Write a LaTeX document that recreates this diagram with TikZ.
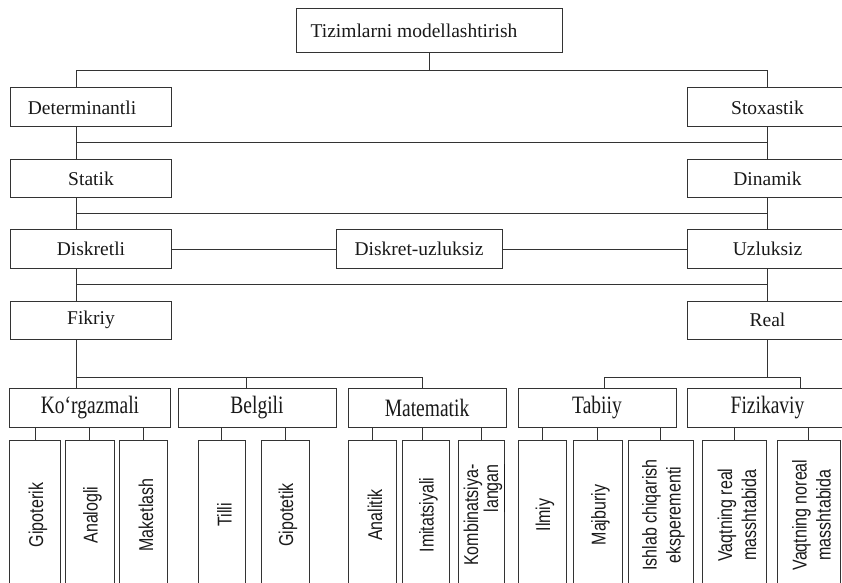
\documentclass[tikz,border=0pt]{standalone}
\usepackage{fontspec}
\setmainfont{Liberation Serif}
\newfontfamily\rowfont[FakeStretch=0.78]{Liberation Serif}
\newfontfamily\leaffont[FakeStretch=0.8]{Liberation Sans}
\begin{document}
\begin{tikzpicture}[x=1bp,y=-1bp,
  box/.style={draw=black!80, line width=1bp, rectangle, inner sep=0pt, text=black!90,
    font=\fontsize{19.5bp}{22bp}\selectfont},
  rowbox/.style={box, minimum height=39bp, font=\rowfont\fontsize{25bp}{28bp}\selectfont},
  leafbox/.style={draw=black!80, line width=1bp, rectangle, inner sep=0pt, minimum height=150bp},
  leaftext/.style={rotate=90, inner sep=0pt, align=center, text=black!90, yshift=-3bp,
    font=\leaffont\fontsize{20bp}{24bp}\selectfont},
  link/.style={draw=black!80, line width=1bp}]
\useasboundingbox (0,0) rectangle (842,583);
\fill[white] (0,0) rectangle (842,583);
\clip (0,0) rectangle (842,583);

% guide positions of the trunk lines
\coordinate (xl) at (76,0);
\coordinate (xr) at (767,0);
\coordinate (xb) at (246,0);
\coordinate (xm) at (422,0);
\coordinate (xt) at (604,0);
\coordinate (xf) at (800,0);
\coordinate (y1) at (0,71);
\coordinate (y2) at (0,143);
\coordinate (y3) at (0,214);
\coordinate (y4) at (0,284);
\coordinate (y5) at (0,377);

% root
\node[box, minimum width=266bp, minimum height=44bp] (top) at (429,31) {\hspace*{-30bp}Tizimlarni modellashtirish};

% side columns
\node[box, minimum width=160bp, minimum height=39bp] (det)   at (91,107.5)  {\hspace*{-18bp}Determinantli};
\node[box, minimum width=161bp, minimum height=39bp] (stox)  at (767.5,107.5) {Stoxastik};
\node[box, minimum width=160bp, minimum height=38bp] (stat)  at (91,179)    {Statik};
\node[box, minimum width=161bp, minimum height=38bp] (dinam) at (767.5,179) {Dinamik};
\node[box, minimum width=160bp, minimum height=38bp] (disk)  at (91,249)    {Diskretli};
\node[box, minimum width=166bp, minimum height=38bp] (du)    at (419,249)   {Diskret-uzluksiz};
\node[box, minimum width=161bp, minimum height=38bp] (uzl)   at (767.5,249) {Uzluksiz};
\node[box, minimum width=160bp, minimum height=38bp] (fikr)  at (91,320)    {Fikriy};
\node[box, minimum width=161bp, minimum height=38bp] (real)  at (767.5,320) {Real};

% model kinds
\node[rowbox, minimum width=160bp] (kor)  at (90,407.5)    {Ko‘rgazmali};
\node[rowbox, minimum width=158bp] (belg) at (257,407.5)   {Belgili};
\node[rowbox, minimum width=158bp] (mat)  at (427,407.5)   {Matematik};
\node[rowbox, minimum width=158bp] (tab)  at (597,407.5)   {Tabiiy};
\node[rowbox, minimum width=161bp] (fiz)  at (767.5,407.5) {Fizikaviy};

% leaves
\node[leafbox, minimum width=50bp] (l1)  at (35,515)    {};
\node[leafbox, minimum width=49bp] (l2)  at (89.5,515)  {};
\node[leafbox, minimum width=48bp] (l3)  at (143,515)   {};
\node[leafbox, minimum width=47bp] (l4)  at (221.5,515) {};
\node[leafbox, minimum width=48bp] (l5)  at (285,515)   {};
\node[leafbox, minimum width=48bp] (l6)  at (372,515)   {};
\node[leafbox, minimum width=47bp] (l7)  at (425.5,515) {};
\node[leafbox, minimum width=46bp] (l8)  at (481,515)   {};
\node[leafbox, minimum width=48bp] (l9)  at (542,515)   {};
\node[leafbox, minimum width=49bp] (l10) at (597.5,515) {};
\node[leafbox, minimum width=65bp] (l11) at (660.5,515) {};
\node[leafbox, minimum width=64bp] (l12) at (734,515)   {};
\node[leafbox, minimum width=63bp] (l13) at (808.5,515) {};

\node[leaftext] (t1)  at (l1.center)  {Gipoterik};
\node[leaftext] (t2)  at (l2.center)  {Analogli};
\node[leaftext] (t3)  at (l3.center)  {Maketlash};
\node[leaftext] (t4)  at (l4.center)  {Tilli};
\node[leaftext] (t5)  at (l5.center)  {Gipotetik};
\node[leaftext] (t6)  at (l6.center)  {Analitik};
\node[leaftext] (t7)  at (l7.center)  {Imitatsiyali};
\node[leaftext, align=right, font=\leaffont\fontsize{20bp}{20bp}\selectfont] (t8) at (l8.center)
  {Kombinatsiya-\\\underline{langan}};
\node[leaftext] (t9)  at (l9.center)  {Ilmiy};
\node[leaftext] (t10) at (l10.center) {Majburiy};
\node[leaftext] (t11) at (l11.center) {Ishlab chiqarish\\eksperementi};
\node[leaftext] (t12) at (l12.center) {Vaqtning real\\masshtabida};
\node[leaftext] (t13) at (l13.center) {Vaqtning noreal\\masshtabida};

% trunk connectors
\draw[link] (top.south) -- (top.south |- y1);
\draw[link] (det.north -| xl) |- (y1 -| xr) -- (stox.north -| xr);

\draw[link] (det.south -| xl) -- (stat.north -| xl);
\draw[link] (stox.south -| xr) -- (dinam.north -| xr);
\draw[link] (xl |- y2) -- (xr |- y2);

\draw[link] (stat.south -| xl) -- (disk.north -| xl);
\draw[link] (dinam.south -| xr) -- (uzl.north -| xr);
\draw[link] (xl |- y3) -- (xr |- y3);

\draw[link] (disk) -- (du);
\draw[link] (du) -- (uzl);

\draw[link] (disk.south -| xl) -- (fikr.north -| xl);
\draw[link] (uzl.south -| xr) -- (real.north -| xr);
\draw[link] (xl |- y4) -- (xr |- y4);

% branches to the model kinds
\draw[link] (fikr.south -| xl) -- (kor.north -| xl);
\draw[link] (xl |- y5) -| (mat.north -| xm);
\draw[link] (belg.north -| xb) -- (xb |- y5);
\draw[link] (real.south -| xr) -- (xr |- y5);
\draw[link] (tab.north -| xt) |- (y5 -| xf) -- (fiz.north -| xf);

% ticks down to the leaves
\draw[link] (kor.south -| l1.north) -- (l1.north);
\draw[link] (kor.south -| l2.north) -- (l2.north);
\draw[link] (kor.south -| l3.north) -- (l3.north);
\draw[link] (belg.south -| l4.north) -- (l4.north);
\draw[link] (belg.south -| l5.north) -- (l5.north);
\draw[link] (mat.south -| l6.north) -- (l6.north);
\draw[link] (mat.south -| xm) -- (l7.north -| xm);
\draw[link] (mat.south -| l8.north) -- (l8.north);
\draw[link] (tab.south -| l9.north) -- (l9.north);
\draw[link] (tab.south -| l10.north) -- (l10.north);
\draw[link] (tab.south -| l11.north) -- (l11.north);
\draw[link] (fiz.south -| l12.north) -- (l12.north);
\draw[link] (fiz.south -| l13.north) -- (l13.north);
\end{tikzpicture}
\end{document}
